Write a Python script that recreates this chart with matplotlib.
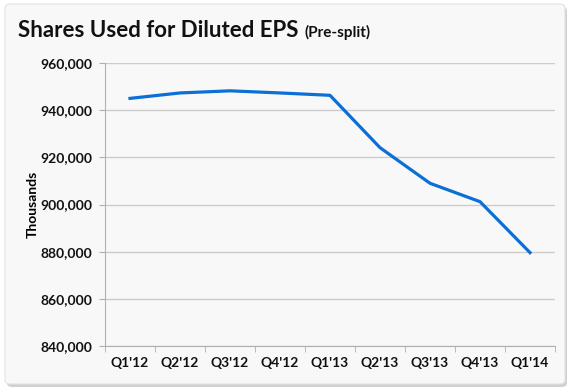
import matplotlib
matplotlib.use("Agg")
import matplotlib.pyplot as plt
from matplotlib.patches import FancyBboxPatch
from matplotlib.ticker import FuncFormatter, MultipleLocator

quarters = ["Q1'12", "Q2'12", "Q3'12", "Q4'12", "Q1'13", "Q2'13", "Q3'13", "Q4'13", "Q1'14"]
shares = [945000, 947300, 948200, 947300, 946300, 924100, 909000, 901200, 879600]

W, H = 580, 391
fig = plt.figure(figsize=(W / 100, H / 100), dpi=100)
fig.patch.set_facecolor("white")

# panel with shadow
shadow = FancyBboxPatch((7 / W, 1 - 387 / H), 560 / W, 380 / H,
                        boxstyle="round,pad=0,rounding_size=0.01",
                        transform=fig.transFigure, facecolor="#d0d0d0",
                        edgecolor="none", zorder=0)
panel = FancyBboxPatch((5 / W, 1 - 384 / H), 560 / W, 380 / H,
                       boxstyle="round,pad=0,rounding_size=0.01",
                       transform=fig.transFigure, facecolor="#f8f8f8",
                       edgecolor="#e2e2e2", linewidth=0.8, zorder=0.5)
fig.patches.extend([shadow, panel])

font = "Lato"
ax = fig.add_axes([105 / W, 1 - 346 / H, 450 / W, (346 - 63) / H])
ax.set_zorder(2)
ax.set_facecolor("none")
x = list(range(len(quarters)))
ax.plot(x, shares, color="#0b6fd6", linewidth=2.3, solid_joinstyle="round", zorder=3)
ax.set_xlim(-0.5, len(quarters) - 0.5)
ax.set_ylim(840000, 960000)
ax.yaxis.set_major_locator(MultipleLocator(20000))
ax.yaxis.set_major_formatter(FuncFormatter(lambda v, p: f"{int(v):,}"))
ax.set_xticks(x)
ax.set_xticklabels(quarters)
ax.set_xticks([i - 0.5 for i in range(len(quarters) + 1)], minor=True)
ax.tick_params(axis="x", which="major", length=0, pad=8)
ax.tick_params(axis="x", which="minor", length=4, color="#b0b0b0")
ax.tick_params(axis="y", length=4, color="#b0b0b0", pad=5)
for lab in ax.get_xticklabels() + ax.get_yticklabels():
    lab.set_fontfamily(font)
    lab.set_fontweight("bold")
    lab.set_fontsize(10)
    lab.set_color("#111111")
ax.grid(axis="y", color="#cccccc", linewidth=1)
ax.set_axisbelow(True)
for s in ["top", "right"]:
    ax.spines[s].set_visible(False)
ax.spines["left"].set_color("#b0b0b0")
ax.spines["bottom"].set_color("#b0b0b0")
ax.set_ylabel("Thousands", fontfamily=font, fontweight="bold", fontsize=10, labelpad=1)

t1 = fig.text(18 / W, 1 - 37 / H, "Shares Used for Diluted EPS", fontfamily=font,
              fontweight="bold", fontsize=16, color="#111111", va="baseline")
fig.canvas.draw()
bb = t1.get_window_extent()
fig.text((bb.x1 + 6) / W, 1 - 37 / H, "(Pre-split)", fontfamily=font,
         fontweight="bold", fontsize=11, color="#111111", va="baseline")

fig.savefig("out.png", dpi=100, facecolor="white")
